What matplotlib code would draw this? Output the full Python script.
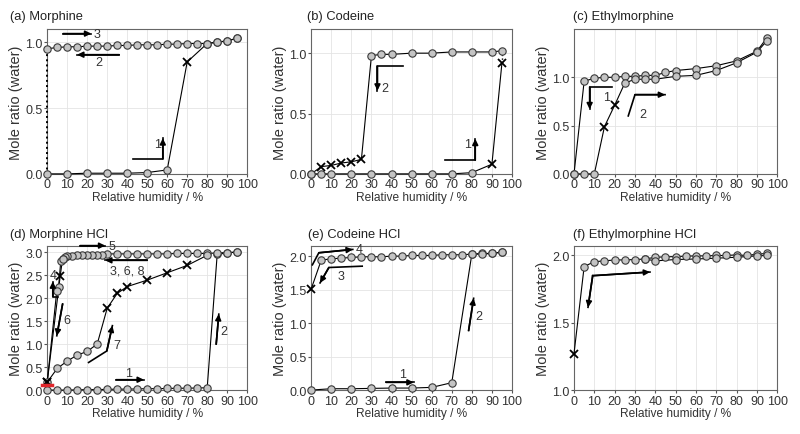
import matplotlib
matplotlib.use('Agg')
import matplotlib.pyplot as plt

plt.rcParams['font.family'] = ['Liberation Sans', 'DejaVu Sans']

# -------- (a) Morphine
a_sorp_x = [0, 10, 20, 30, 40, 50, 60, 70, 80, 85, 90, 95]
a_sorp_y = [0.0, 0.0, 0.005, 0.005, 0.005, 0.01, 0.03, 0.85, 0.99, 1.0, 1.01, 1.03]
a_sorp_m = [0, 0, 0, 0, 0, 0, 0, 1, 0, 0, 0, 0]
a_desp_x = [95, 90, 85, 80, 75, 70, 65, 60, 55, 50, 45, 40, 35, 30, 25, 20, 15, 10, 5, 0]
a_desp_y = [1.03, 1.01, 1.0, 0.99, 0.99, 0.99, 0.985, 0.985, 0.98, 0.98, 0.98,
            0.975, 0.975, 0.97, 0.97, 0.97, 0.965, 0.965, 0.96, 0.95]
a_dry_x = [0, 0]
a_dry_y = [0.95, 0.0]

# -------- (b) Codeine
b_sorp_x = [0, 5, 10, 20, 30, 40, 50, 60, 70, 80, 90, 95]
b_sorp_y = [0, 0, 0, 0, 0, 0, 0, 0, 0, 0.01, 0.08, 0.92]
b_sorp_m = [0, 0, 0, 0, 0, 0, 0, 0, 0, 0, 1, 1]
b_desp_x = [95, 90, 80, 70, 60, 50, 40, 35, 30, 25, 20, 15, 10, 5, 0]
b_desp_y = [1.02, 1.01, 1.01, 1.01, 1.0, 1.0, 0.99, 0.99, 0.98, 0.12, 0.10, 0.09, 0.07, 0.06, 0.0]
b_desp_m = [0, 0, 0, 0, 0, 0, 0, 0, 0, 1, 1, 1, 1, 1, 0]

# -------- (c) Ethylmorphine
c_up_x = [0, 5, 10, 15, 20, 25, 30, 35, 40, 45, 50, 60, 70, 80, 90, 95]
c_up_y = [0.0, 0.96, 0.99, 1.0, 1.0, 1.01, 1.01, 1.02, 1.02, 1.05, 1.07, 1.09, 1.12, 1.17, 1.27, 1.41]
c_lo_x = [0, 5, 10, 15, 20, 25, 30, 35, 40, 50, 60, 70, 80, 90, 95]
c_lo_y = [0.0, 0.0, 0.0, 0.49, 0.71, 0.94, 0.98, 0.98, 0.98, 1.01, 1.02, 1.07, 1.15, 1.26, 1.38]
c_lo_m = [0, 0, 0, 1, 1, 0, 0, 0, 0, 0, 0, 0, 0, 0, 0]

# -------- (d) Morphine HCl
d_s1_x = [0, 5, 10, 15, 20, 25, 30, 35, 40, 45, 50, 55, 60, 65, 70, 75, 80, 85, 90, 95]
d_s1_y = [0.0, 0.0, 0.0, 0.005, 0.01, 0.01, 0.015, 0.02, 0.02, 0.025, 0.03, 0.03, 0.035,
          0.04, 0.04, 0.045, 0.05, 2.95, 2.98, 3.0]
d_des_x = [95, 90, 85, 80, 75, 70, 65, 60, 55, 50, 45, 40, 35, 30, 27.5, 25, 22.5, 20,
           17.5, 15, 12.5, 10, 9, 7.7, 6.8, 5.7, 4.8, 0]
d_des_y = [3.0, 2.99, 2.98, 2.97, 2.97, 2.97, 2.97, 2.96, 2.96, 2.96, 2.96, 2.96, 2.96,
           2.96, 2.94, 2.94, 2.94, 2.93, 2.93, 2.93, 2.92, 2.91, 2.9, 2.86, 2.81, 2.25,
           2.16, 0.17]
d_s4_x = [0, 6.5, 7.7]
d_s4_y = [0.17, 2.48, 2.86]
d_s4_m = [1, 1, 0]
d_s7_x = [0, 5, 10, 15, 20, 25, 30, 35, 40, 50, 60, 70, 80]
d_s7_y = [0.17, 0.47, 0.63, 0.76, 0.84, 1.0, 1.78, 2.1, 2.25, 2.39, 2.55, 2.71, 2.93]
d_s7_m = [1, 0, 0, 0, 0, 0, 1, 1, 1, 1, 1, 1, 0]

# -------- (e) Codeine HCl
e_sorp_x = [0, 10, 20, 30, 40, 50, 60, 70, 80, 85, 90, 95]
e_sorp_y = [0.0, 0.02, 0.02, 0.025, 0.03, 0.03, 0.04, 0.11, 2.03, 2.04, 2.04, 2.06]
e_desp_x = [95, 90, 85, 80, 75, 70, 65, 60, 55, 50, 45, 40, 35, 30, 25, 20, 15, 10, 5, 0]
e_desp_y = [2.06, 2.04, 2.03, 2.03, 2.02, 2.02, 2.02, 2.01, 2.01, 2.01, 2.0, 2.0, 1.99,
            1.99, 1.99, 1.98, 1.97, 1.96, 1.94, 1.51]
e_desp_m = [0] * 19 + [1]

# -------- (f) Ethylmorphine HCl
f_up_x = [0, 5, 10, 15, 20, 25, 30, 35, 40, 45, 50, 55, 60, 65, 70, 75, 80, 85, 90, 95]
f_up_y = [1.27, 1.918, 1.954, 1.96, 1.967, 1.967, 1.97, 1.974, 1.987, 1.99, 1.992, 1.995,
          1.997, 1.997, 2.0, 2.0, 2.005, 2.0, 2.01, 2.015]
f_up_m = [1] + [0] * 19
f_lo_x = [35, 40, 50, 60, 70, 80, 90, 95]
f_lo_y = [1.974, 1.96, 1.97, 1.974, 1.98, 1.987, 1.997, 2.0]

xticks = list(range(0, 101, 10))

# -------- helpers
def series(ax, x, y, marks=None, ls='-'):
    if marks == None: marks = [0] * len(x)
    ax.plot(x, y, color='k', lw=0.8, ls=ls, zorder=3, clip_on=False)
    cx = [xi for xi, m in zip(x, marks) if m == 0]
    cy = [yi for yi, m in zip(y, marks) if m == 0]
    kx = [xi for xi, m in zip(x, marks) if m == 1]
    ky = [yi for yi, m in zip(y, marks) if m == 1]
    ax.plot(cx, cy, 'o', ms=5.3, mfc='#c4c4c4', mec='#3a3a3a', mew=0.8, zorder=4, clip_on=False)
    ax.plot(kx, ky, 'x', ms=6.2, mec='k', mew=1.3, zorder=5, clip_on=False)

def arrow(ax, xs, ys, label=None, lx=None, ly=None):
    ax.plot(xs, ys, color='k', lw=1.2, zorder=6, clip_on=False)
    ax.annotate('', xy=(xs[-1], ys[-1]), xytext=(xs[-2], ys[-2]),
                arrowprops=dict(arrowstyle='-|>', color='k', lw=1.2,
                                mutation_scale=8.5, shrinkA=0, shrinkB=0),
                annotation_clip=False, zorder=6)
    if label != None:
        ax.text(lx, ly, label, fontsize=9, color='#333333', ha='center', va='center')

def setup(ax, yr, yt, title, tx, ty):
    ax.set_xlim(0, 100)
    ax.set_ylim(yr)
    ax.set_xticks(xticks)
    ax.set_yticks(yt)
    ax.set_yticklabels(['%.1f' % v for v in yt])
    ax.grid(True, color='#e4e4e4', lw=0.6)
    ax.set_axisbelow(True)
    for s in ax.spines.values():
        s.set_color('#666666')
        s.set_linewidth(0.8)
    ax.tick_params(direction='out', length=2.5, width=0.8, color='#555555',
                   labelcolor='#333333', labelsize=9, pad=0.8)
    ax.set_xlabel('Relative humidity / %', fontsize=8.6, color='#333333', labelpad=0.5)
    ax.set_ylabel('Mole ratio (water)', fontsize=10.5, color='#333333')
    ax.yaxis.set_label_coords(-0.12, 0.5)
    fig.text(tx / 800., 1 - ty / 435., title, fontsize=9.3, color='#222222', va='center')


# -------- make the figure
fig = plt.figure(figsize=(8, 4.35), dpi=100)
lefts = [0.059, 0.389, 0.7175]
widths = [0.25, 0.251, 0.254]
axa = fig.add_axes([lefts[0], 0.598, widths[0], 0.333])
axb = fig.add_axes([lefts[1], 0.598, widths[1], 0.333])
axc = fig.add_axes([lefts[2], 0.598, widths[2], 0.333])
axd = fig.add_axes([lefts[0], 0.101, widths[0], 0.331])
axe = fig.add_axes([lefts[1], 0.101, widths[1], 0.331])
axf = fig.add_axes([lefts[2], 0.101, widths[2], 0.331])

# (a)
setup(axa, (0, 1.1), [0.0, 0.5, 1.0], '(a) Morphine', 10, 17)
axa.plot(a_dry_x, a_dry_y, color='k', lw=1.4, ls=':', zorder=3, clip_on=False)
series(axa, a_sorp_x, a_sorp_y, a_sorp_m)
series(axa, a_desp_x, a_desp_y)
arrow(axa, [8, 22], [1.065, 1.065], '3', 25, 1.065)
arrow(axa, [36, 15], [0.905, 0.905], '2', 26, 0.85)
arrow(axa, [43, 57.8, 57.8], [0.115, 0.115, 0.27], '1', 55, 0.23)

# (b)
setup(axb, (0, 1.2), [0.0, 0.5, 1.0], '(b) Codeine', 307, 17)
axb.plot([95, 95], [0.92, 1.02], color='k', lw=1.0, ls=':', zorder=3)
series(axb, b_sorp_x, b_sorp_y, b_sorp_m)
series(axb, b_desp_x, b_desp_y, b_desp_m)
arrow(axb, [45.5, 33, 33], [0.89, 0.89, 0.69], '2', 36.5, 0.71)
arrow(axb, [66.5, 81.7, 81.7], [0.113, 0.113, 0.29], '1', 78, 0.25)

# (c)
setup(axc, (0, 1.5), [0.0, 0.5, 1.0], '(c) Ethylmorphine', 573, 17)
series(axc, c_up_x, c_up_y)
series(axc, c_lo_x, c_lo_y, c_lo_m)
arrow(axc, [18.5, 7.7, 7.7], [0.9, 0.9, 0.67], '1', 16, 0.8)
arrow(axc, [26.7, 30, 44.8], [0.6, 0.82, 0.82], '2', 33.8, 0.62)

# (d)
setup(axd, (0, 3.13), [0.0, 0.5, 1.0, 1.5, 2.0, 2.5, 3.0], '(d) Morphine HCl', 10, 235)
series(axd, d_s1_x, d_s1_y)
series(axd, d_des_x, d_des_y)
series(axd, d_s4_x, d_s4_y, d_s4_m)
series(axd, d_s7_x, d_s7_y, d_s7_m)
axd.plot([-2.5, 2.5], [0.1, 0.1], color='#e0262b', lw=2.5, zorder=7, clip_on=False)
arrow(axd, [16.5, 29], [3.14, 3.14], '5', 32.5, 3.14)
arrow(axd, [50, 29], [2.82, 2.82], '3, 6, 8', 40, 2.6)
arrow(axd, [5.2, 2.8, 2.8], [2.03, 2.03, 2.36], '4', 3.2, 2.5)
arrow(axd, [7.7, 4.8], [1.87, 1.18], '6', 9.7, 1.52)
arrow(axd, [20.7, 29.8, 32.6], [0.6, 0.85, 1.4], '7', 35, 0.98)
arrow(axd, [34.5, 48.3], [0.225, 0.225], '1', 40.8, 0.38)
arrow(axd, [84.5, 85.8], [1.0, 1.65], '2', 88.5, 1.29)

# (e)
setup(axe, (0, 2.15), [0.0, 0.5, 1.0, 1.5, 2.0], '(e) Codeine HCl', 308, 235)
series(axe, e_sorp_x, e_sorp_y)
series(axe, e_desp_x, e_desp_y, e_desp_m)
arrow(axe, [0.6, 3.8, 20.7], [1.87, 2.05, 2.1], '4', 24, 2.1)
arrow(axe, [25.4, 8.8, 4.4], [1.85, 1.83, 1.6], '3', 15, 1.71)
arrow(axe, [37.3, 51], [0.115, 0.115], '1', 45.6, 0.24)
arrow(axe, [78.4, 80.9], [0.89, 1.37], '2', 83.5, 1.11)

# (f)
setup(axf, (1.0, 2.07), [1.0, 1.5, 2.0], '(f) Ethylmorphine HCl', 573, 235)
series(axf, f_up_x, f_up_y, f_up_m)
series(axf, f_lo_x, f_lo_y)
arrow(axf, [9.2, 37.4], [1.85, 1.877])
arrow(axf, [9.2, 6.9], [1.85, 1.615])

fig.savefig('out.png', dpi=100)
